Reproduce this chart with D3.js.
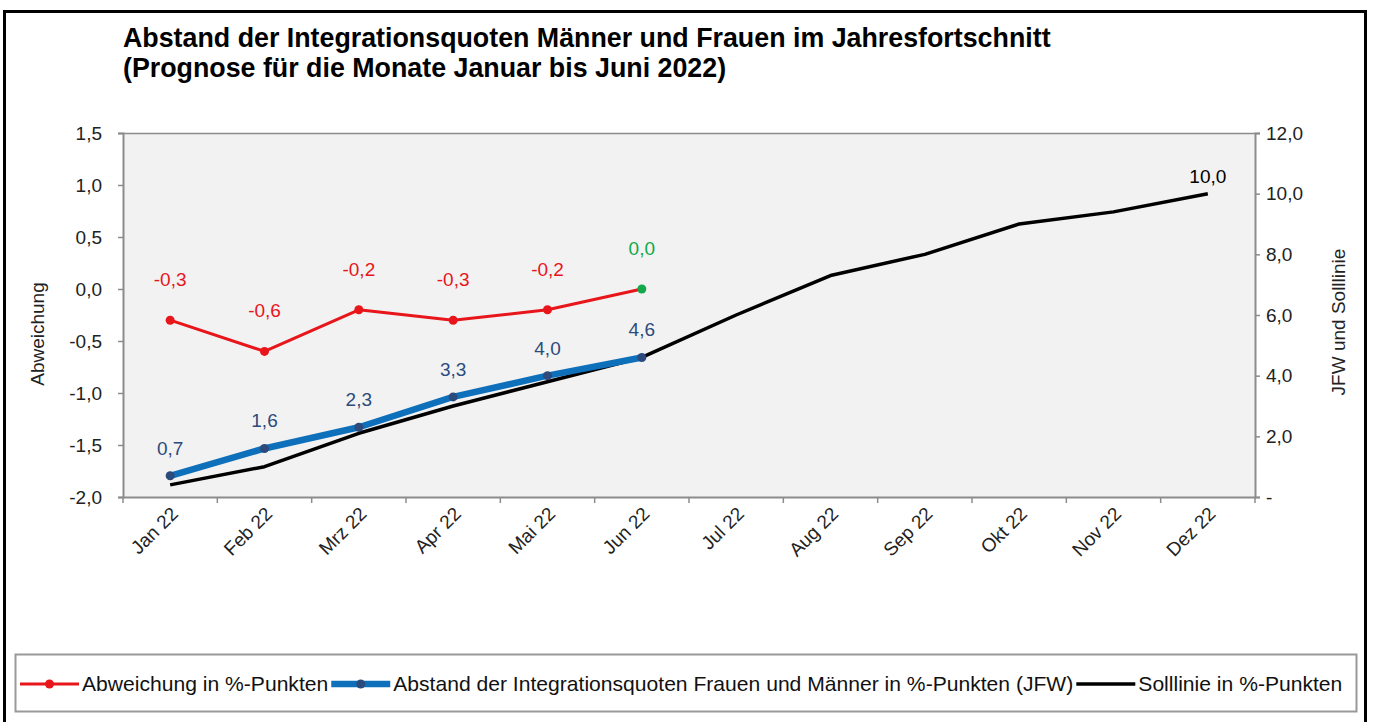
<!DOCTYPE html>
<html>
<head>
<meta charset="utf-8">
<script src="https://cdn.jsdelivr.net/npm/d3@7"></script>
<style>
  body { margin: 0; background: #fff; }
  svg { font-family: "Liberation Sans", Arial, sans-serif; display: block; }
</style>
</head>
<body>
<svg id="chart" width="1373" height="722"></svg>
<script>
// categories and series
let months = ["Jan 22", "Feb 22", "Mrz 22", "Apr 22", "Mai 22", "Jun 22",
              "Jul 22", "Aug 22", "Sep 22", "Okt 22", "Nov 22", "Dez 22"];
let abweichung = [-0.3, -0.6, -0.2, -0.3, -0.2, 0.0];           // left axis
let abstandJFW = [0.7, 1.6, 2.3, 3.3, 4.0, 4.6];                // right axis
let solllinie = [0.4, 1.0, 2.1, 3.0, 3.8, 4.6, 6.0, 7.3, 8.0, 9.0, 9.4, 10.0]; // right axis
let leftTicks = [1.5, 1.0, 0.5, 0.0, -0.5, -1.0, -1.5, -2.0];
let rightTicks = [0, 2, 4, 6, 8, 10, 12];

let titleLines = [
  "Abstand der Integrationsquoten Männer und Frauen im Jahresfortschnitt",
  "(Prognose für die Monate Januar bis Juni 2022)"
];
let legendItems = [
  "Abweichung in %-Punkten",
  "Abstand der Integrationsquoten Frauen und Männer in %-Punkten (JFW)",
  "Solllinie in %-Punkten"
];

let fmt = v => v.toFixed(1).replace(".", ",");
let fontSize = 19;

let svg = d3.select("#chart");

// outer frame
svg.append("rect")
  .attr("x", 4.5).attr("y", 11.5)
  .attr("width", 1361).attr("height", 720)
  .attr("fill", "none").attr("stroke", "#000").attr("stroke-width", 3);

// title
svg.append("g").selectAll("text")
  .data(titleLines)
  .join("text")
    .attr("x", 123)
    .attr("y", (d, i) => 47 + i * 30)
    .attr("font-size", 26.8)
    .attr("font-weight", "bold")
    .attr("fill", "#000")
    .text(d => d);

let margin = {top: 133, right: 118, bottom: 225, left: 123};
let plotWidth = 1373 - margin.left - margin.right;
let plotHeight = 722 - margin.top - margin.bottom;

let plot = svg.append("g")
  .attr("transform", "translate(" + margin.left + "," + margin.top + ")");

let x = d3.scaleBand().domain(months).range([0, plotWidth]);
let yL = d3.scaleLinear().domain([-2, 1.5]).range([plotHeight, 0]);
let yR = d3.scaleLinear().domain([0, 12]).range([plotHeight, 0]);
let cx = d => x(d) + x.bandwidth() / 2;

let gray = "#8c8c8c";

// plot area
plot.append("rect")
  .attr("width", plotWidth).attr("height", plotHeight)
  .attr("fill", "#f2f2f2");
plot.append("line")
  .attr("x1", 0).attr("x2", plotWidth).attr("y1", 0.5).attr("y2", 0.5)
  .attr("stroke", gray).attr("stroke-width", 1.5);

// left axis
let yAxisL = d3.axisLeft(yL).tickValues(leftTicks).tickFormat(fmt).tickSize(5).tickPadding(16);
let gL = plot.append("g").call(yAxisL);
// right axis
let yAxisR = d3.axisRight(yR).tickValues(rightTicks)
  .tickFormat(d => d === 0 ? "-" : fmt(d)).tickSize(5).tickPadding(6);
let gR = plot.append("g").attr("transform", "translate(" + plotWidth + ",0)").call(yAxisR);
// bottom axis
let xAxis = d3.axisBottom(x).tickSize(0).tickPadding(0);
let gX = plot.append("g").attr("transform", "translate(0," + plotHeight + ")").call(xAxis);

[gL, gR, gX].forEach(g => {
  g.select(".domain").attr("stroke", gray).attr("stroke-width", 2);
  g.selectAll(".tick line").attr("stroke", gray).attr("stroke-width", 1.5);
  g.selectAll("text").attr("font-family", "Liberation Sans, Arial, sans-serif")
    .attr("font-size", fontSize).attr("fill", "#222");
});

// x ticks on band boundaries
gX.selectAll(".boundary")
  .data(d3.range(months.length + 1))
  .join("line")
    .attr("x1", i => i * x.step()).attr("x2", i => i * x.step())
    .attr("y1", 0).attr("y2", 6)
    .attr("stroke", gray).attr("stroke-width", 1.5);

gX.selectAll(".tick text")
  .attr("text-anchor", "end")
  .attr("dy", 0)
  .attr("transform", "translate(9,18) rotate(-45)");

// axis titles
svg.append("text")
  .attr("transform", "translate(44,334) rotate(-90)")
  .attr("text-anchor", "middle")
  .attr("font-size", fontSize).attr("fill", "#222")
  .text("Abweichung");
svg.append("text")
  .attr("transform", "translate(1345,322) rotate(-90)")
  .attr("text-anchor", "middle")
  .attr("font-size", fontSize).attr("fill", "#222")
  .text("JFW und Solllinie");

let red = "#e8161b", blue = "#0e6fba", navy = "#2c4a7c", green = "#13a84a";

// Solllinie
let lineR = d3.line().x((d, i) => cx(months[i])).y(d => yR(d));
plot.append("path")
  .datum(solllinie)
  .attr("d", lineR)
  .attr("fill", "none").attr("stroke", "#000").attr("stroke-width", 3.5)
  .attr("stroke-linejoin", "round");

// JFW
plot.append("path")
  .datum(abstandJFW)
  .attr("d", lineR)
  .attr("fill", "none").attr("stroke", blue).attr("stroke-width", 6.5)
  .attr("stroke-linejoin", "round");
plot.selectAll(".jfw-dot")
  .data(abstandJFW)
  .join("circle")
    .attr("cx", (d, i) => cx(months[i])).attr("cy", d => yR(d))
    .attr("r", 4.5).attr("fill", navy);
plot.selectAll(".jfw-lab")
  .data(abstandJFW)
  .join("text")
    .attr("x", (d, i) => cx(months[i])).attr("y", d => yR(d) - 21)
    .attr("text-anchor", "middle").attr("font-size", fontSize).attr("fill", navy)
    .text(fmt);

// Abweichung
let lineL = d3.line().x((d, i) => cx(months[i])).y(d => yL(d));
plot.append("path")
  .datum(abweichung)
  .attr("d", lineL)
  .attr("fill", "none").attr("stroke", red).attr("stroke-width", 3)
  .attr("stroke-linejoin", "round");
let last = abweichung.length - 1;
plot.selectAll(".abw-dot")
  .data(abweichung)
  .join("circle")
    .attr("cx", (d, i) => cx(months[i])).attr("cy", d => yL(d))
    .attr("r", 4.5).attr("fill", (d, i) => i === last ? green : red);
plot.selectAll(".abw-lab")
  .data(abweichung)
  .join("text")
    .attr("x", (d, i) => cx(months[i])).attr("y", d => yL(d) - 34)
    .attr("text-anchor", "middle").attr("font-size", fontSize)
    .attr("fill", (d, i) => i === last ? green : red)
    .text(fmt);

// label only the last point of the Solllinie
let sl = solllinie.length - 1;
plot.append("text")
  .attr("x", cx(months[sl])).attr("y", yR(solllinie[sl]) - 11)
  .attr("text-anchor", "middle").attr("font-size", fontSize).attr("fill", "#000")
  .text(fmt(solllinie[sl]));

// legend
let legend = svg.append("g");
legend.append("rect")
  .attr("x", 15.5).attr("y", 654.5).attr("width", 1341).attr("height", 57)
  .attr("fill", "#fff").attr("stroke", "#999").attr("stroke-width", 2);

let legendStyles = [
  {color: red, width: 3, dot: red},
  {color: blue, width: 6.5, dot: navy},
  {color: "#000", width: 3.5, dot: null}
];
let lx = 20;
legendItems.forEach((label, i) => {
  let s = legendStyles[i];
  let g = legend.append("g").attr("transform", "translate(" + lx + ",684)");
  g.append("line").attr("x1", 0).attr("x2", 59).attr("y1", 0).attr("y2", 0)
    .attr("stroke", s.color).attr("stroke-width", s.width);
  if (s.dot) g.append("circle").attr("cx", 29.5).attr("r", 4.5).attr("fill", s.dot);
  let t = g.append("text").attr("x", 62).attr("y", 7)
    .attr("font-size", 21.1).attr("fill", "#111").text(label);
  lx += 62 + t.node().getComputedTextLength() + 3;
});
</script>
</body>
</html>
